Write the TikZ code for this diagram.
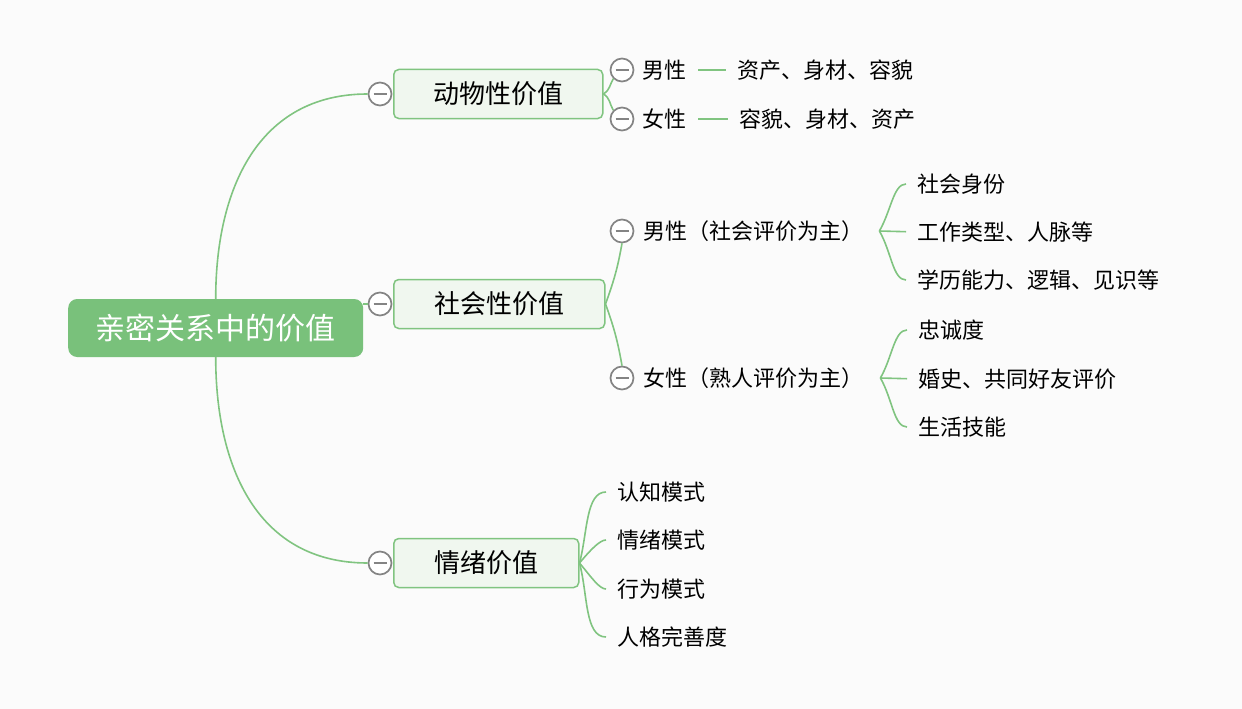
\documentclass[tikz,border=0pt]{standalone}
\usepackage{fontspec}
\setmainfont{Noto Sans CJK SC}
\usetikzlibrary{positioning}

\definecolor{mapgreen}{RGB}{121,193,123}
\definecolor{linegreen}{RGB}{128,196,128}
\definecolor{boxfill}{RGB}{240,247,239}
\definecolor{foldgray}{RGB}{132,132,132}
\definecolor{paper}{RGB}{251,251,251}

\tikzset{
  rootbox/.style={fill=mapgreen, text=white, rounded corners=9pt, anchor=west,
    minimum width=295pt, minimum height=58pt, inner sep=0pt,
    font=\fontsize{30}{30}\selectfont, text height=26.4pt, text depth=3.6pt},
  branchbox/.style={draw=linegreen, line width=1.5pt, fill=boxfill, rounded corners=5pt,
    anchor=west, minimum height=49pt, inner sep=0pt,
    font=\fontsize{26}{26}\selectfont, text height=22.9pt, text depth=3.1pt},
  fold/.style={circle, draw=foldgray, line width=1.7pt, fill=white, minimum size=23pt, inner sep=0pt,
    path picture={\draw[foldgray, line width=1.7pt] ([xshift=5pt]path picture bounding box.west) -- ([xshift=-5pt]path picture bounding box.east);}},
  leaf/.style={anchor=west, inner sep=0pt, font=\fontsize{22}{22}\selectfont, text height=19.4pt, text depth=2.6pt},
  link/.style={draw=linegreen, line width=1.6pt},
  twig/.style={link, shorten >=11pt},
}

\begin{document}
\begin{tikzpicture}[x=1pt, y=-1pt]

	\fill[paper] (0,0) rectangle (1242,709);
	\useasboundingbox (0,0) rectangle (1242,709);

	\node[rootbox] (root) at (68,328) {亲密关系中的价值};

	\node[fold] (f1) at (380,94) {};
	\node[fold] (f2) at (380,304) {};
	\node[fold] (f3) at (380,563) {};
	\node[branchbox, minimum width=209pt] (b1) at (393,94) {动物性价值};
	\node[branchbox, minimum width=211pt] (b2) at (393,304) {社会性价值};
	\node[branchbox, minimum width=185pt] (b3) at (393,563) {情绪价值};

	\draw[link] (root.north) to[out=90, in=180, looseness=1.1] (f1.west);
	\draw[link] (root.east |- f2.west) -- (f2.west);
	\draw[link] (root.south) to[out=-90, in=180, looseness=1.1] (f3.west);

	% animal value
	\node[fold] (m1) at (622,70) {};
	\node[fold] (m2) at (622,119) {};
	\draw[link] (b1.east) to[out=30, in=-120] (m1.south west);
	\draw[link] (b1.east) to[out=-30, in=120] (m2.north west);
	\node[leaf] (s1) at (642,70) {男性};
	\node[leaf] (s2) at (642,119) {女性};
	\node[leaf] (v1) at (737,70) {资产、身材、容貌};
	\node[leaf] (v2) at (739,119) {容貌、身材、资产};
	\draw[link, shorten <=12pt, shorten >=11pt] (s1) -- (v1);
	\draw[link, shorten <=12pt, shorten >=11pt] (s2) -- (v2);

	% social value
	\node[fold] (m3) at (622,231) {};
	\node[fold] (m4) at (622,378) {};
	\draw[link] (b2.east) to[out=70, in=-100] (m3.south);
	\draw[link] (b2.east) to[out=-70, in=100] (m4.north);
	\node[leaf] (s3) at (643,231) {男性（社会评价为主）};
	\node[leaf] (s4) at (643,378) {女性（熟人评价为主）};
	\coordinate (j3) at ([xshift=16pt]s3.east);
	\coordinate (j4) at ([xshift=17pt]s4.east);

	\node[leaf] (l1) at (917,184) {社会身份};
	\node[leaf] (l2) at (917,232) {工作类型、人脉等};
	\node[leaf] (l3) at (917,280) {学历能力、逻辑、见识等};
	\draw[twig] (j3) to[out=60, in=180] (l1.west);
	\draw[twig] (j3) -- (l2.west);
	\draw[twig] (j3) to[out=-60, in=180] (l3.west);

	\node[leaf] (l4) at (918,330) {忠诚度};
	\node[leaf] (l5) at (918,379) {婚史、共同好友评价};
	\node[leaf] (l6) at (918,427) {生活技能};
	\draw[twig] (j4) to[out=60, in=180] (l4.west);
	\draw[twig] (j4) -- (l5.west);
	\draw[twig] (j4) to[out=-60, in=180] (l6.west);

	% emotional value
	\node[leaf] (c1) at (617,492) {认知模式};
	\node[leaf] (c2) at (617,540) {情绪模式};
	\node[leaf] (c3) at (617,589) {行为模式};
	\node[leaf] (c4) at (617,637) {人格完善度};
	\draw[twig] (b3.east) to[out=75, in=180] (c1.west);
	\draw[twig] (b3.east) to[out=50, in=180] (c2.west);
	\draw[twig] (b3.east) to[out=-50, in=180] (c3.west);
	\draw[twig] (b3.east) to[out=-75, in=180] (c4.west);

\end{tikzpicture}
\end{document}
